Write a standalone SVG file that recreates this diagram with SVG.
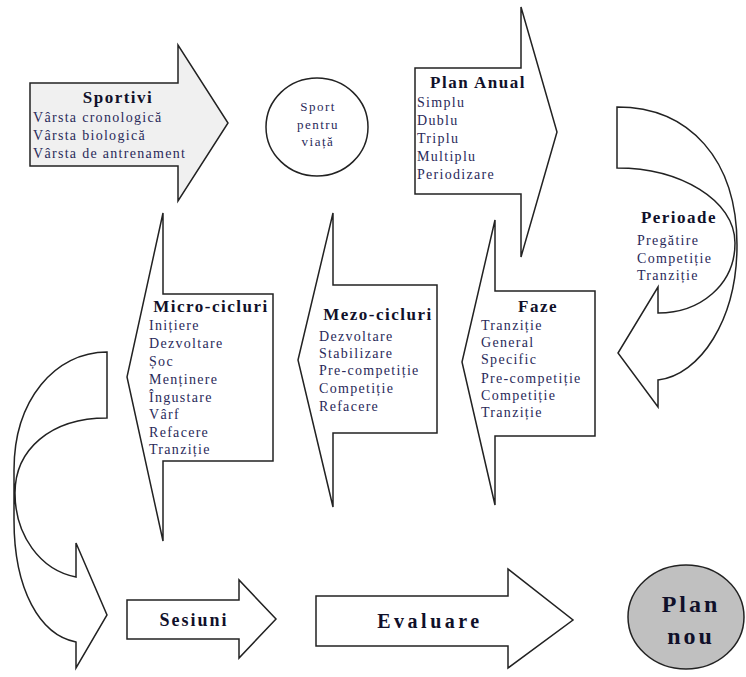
<svg xmlns="http://www.w3.org/2000/svg" width="746" height="677" viewBox="0 0 746 677" font-family="'Liberation Serif', 'DejaVu Serif', serif">
<style>
.shape{fill:#fff;stroke:#222;stroke-width:1.5;stroke-linejoin:miter}
.grey{fill:#f0f0f0}
.dark{fill:#c0c0c0}
.h{font-family:'Liberation Serif','DejaVu Serif',serif;font-weight:bold;font-size:17px;letter-spacing:1.5px;fill:#10102a;text-anchor:middle}
.i{font-family:'Liberation Serif','DejaVu Serif',serif;font-size:14px;letter-spacing:1.3px;fill:#2a2a5a}
.s{font-family:'Liberation Serif','DejaVu Serif',serif;font-size:13px;letter-spacing:1.5px;fill:#2a2a5a;text-anchor:middle}
</style>
<rect width="746" height="677" fill="#fff"/>
<g id="connectors">
<path class="shape" d="M617,107 C690,107 737,160 737,245 C737,320 700,375 658,380 L658,407 L618,353 L658,287 L658,313 C700,313 735,285 735,243 C735,200 680,168 617,168 Z"/>
<path class="shape" d="M107,352 C55,352 14,400 14,470 L14,520 C14,590 40,635 76,642 L76,668 L107,615 L76,543 L76,577 C40,570 15,535 15,493 C15,450 50,418 107,418 Z"/>
</g>
<g id="sportivi">
<path class="shape grey" d="M30,83 L178,83 L178,45 L228,123 L178,201 L178,166 L30,166 Z"/>
<text class="h" x="118" y="103">Sportivi</text>
<text class="i" x="33" y="122">Vârsta cronologică</text>
<text class="i" x="33" y="140">Vârsta biologică</text>
<text class="i" x="33" y="158">Vârsta de antrenament</text>
</g>
<g id="sport-pentru-viata">
<ellipse class="shape" cx="317" cy="127" rx="51" ry="49"/>
<text class="s" x="318" y="111">Sport</text>
<text class="s" x="318" y="129">pentru</text>
<text class="s" x="318" y="146">viață</text>
</g>
<g id="plan-anual">
<path class="shape" d="M415,68 L521,68 L521,7 L557,132 L521,257 L521,194 L415,194 Z"/>
<text class="h" x="478" y="88">Plan Anual</text>
<text class="i" x="417" y="107">Simplu</text>
<text class="i" x="417" y="125">Dublu</text>
<text class="i" x="417" y="143">Triplu</text>
<text class="i" x="417" y="161">Multiplu</text>
<text class="i" x="417" y="179">Periodizare</text>
</g>
<g id="perioade">
<text class="h" x="679" y="223">Perioade</text>
<text class="i" x="637" y="245">Pregătire</text>
<text class="i" x="637" y="263">Competiție</text>
<text class="i" x="637" y="280">Tranziție</text>
</g>
<g id="faze">
<path class="shape" d="M595,291 L495,291 L495,220 L462,362 L495,505 L495,436 L595,436 Z"/>
<text class="h" x="538" y="312">Faze</text>
<text class="i" x="481" y="330">Tranziție</text>
<text class="i" x="481" y="347">General</text>
<text class="i" x="481" y="364">Specific</text>
<text class="i" x="481" y="383">Pre-competiție</text>
<text class="i" x="481" y="400">Competiție</text>
<text class="i" x="481" y="417">Tranziție</text>
</g>
<g id="mezo-cicluri">
<path class="shape" d="M437,285 L333,285 L333,213 L298,360 L333,507 L333,433 L437,433 Z"/>
<text class="h" x="378" y="320">Mezo-cicluri</text>
<text class="i" x="319" y="341">Dezvoltare</text>
<text class="i" x="319" y="358">Stabilizare</text>
<text class="i" x="319" y="375">Pre-competiție</text>
<text class="i" x="319" y="393">Competiție</text>
<text class="i" x="319" y="411">Refacere</text>
</g>
<g id="micro-cicluri">
<path class="shape" d="M273,294 L163,294 L163,213 L127,377 L163,541 L163,461 L273,461 Z"/>
<text class="h" x="211" y="312">Micro-cicluri</text>
<text class="i" x="149" y="330">Inițiere</text>
<text class="i" x="149" y="348">Dezvoltare</text>
<text class="i" x="149" y="366">Șoc</text>
<text class="i" x="149" y="384">Menținere</text>
<text class="i" x="149" y="402">Îngustare</text>
<text class="i" x="149" y="419">Vârf</text>
<text class="i" x="149" y="437">Refacere</text>
<text class="i" x="149" y="454">Tranziție</text>
</g>
<g id="sesiuni">
<path class="shape" d="M127,600 L239,600 L239,580 L276,619 L239,658 L239,639 L127,639 Z"/>
<text class="h" x="194" y="626" style="font-size:18px;letter-spacing:2px">Sesiuni</text>
</g>
<g id="evaluare">
<path class="shape" d="M316,596 L508,596 L508,569 L573,620 L508,668 L508,646 L316,646 Z"/>
<text class="h" x="430" y="628" style="font-size:20px;letter-spacing:3.5px">Evaluare</text>
</g>
<g id="plan-nou">
<ellipse class="shape dark" cx="686" cy="617" rx="58" ry="52"/>
<text class="h" x="691" y="612" style="font-size:24px;letter-spacing:3px">Plan</text>
<text class="h" x="691" y="644" style="font-size:24px;letter-spacing:3px">nou</text>
</g>
</svg>
